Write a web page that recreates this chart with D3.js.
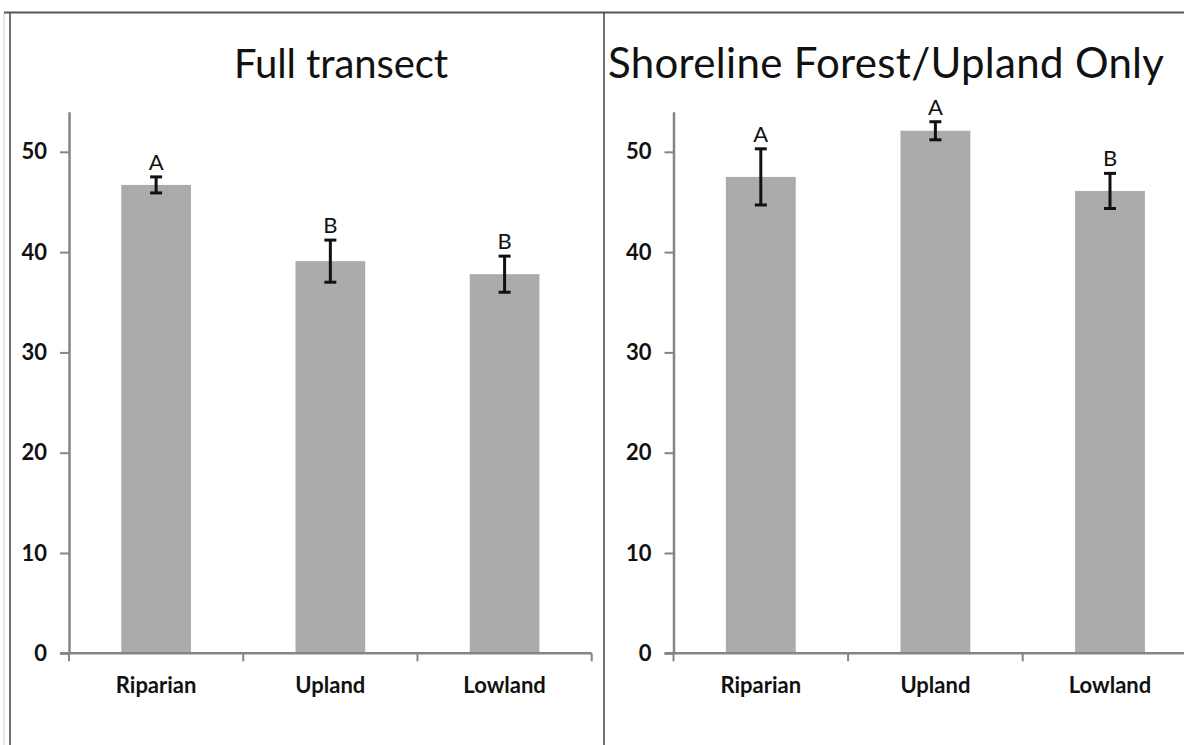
<!DOCTYPE html>
<html>
<head>
<meta charset="utf-8">
<script src="https://cdn.jsdelivr.net/npm/d3@7"></script>
<style>
body { margin: 0; background: #fff; }
text { font-family: Lato, "Open Sans", sans-serif; fill: #111; }
</style>
</head>
<body>
<div id="chart"></div>
<script>

const categories = ["Riparian", "Upland", "Lowland"];
const yTicks = [0, 10, 20, 30, 40, 50];

// Full transect
const fullMeans = [46.7, 39.1, 37.8];
const fullErr = [0.8, 2.1, 1.8];
const fullLetters = ["A", "B", "B"];

// Shoreline Forest/Upland Only
const shoreMeans = [47.5, 52.1, 46.1];
const shoreErr = [2.8, 0.9, 1.75];
const shoreLetters = ["A", "A", "B"];

const width = 1184;
const height = 745;

let svg = d3.select("#chart")
	.append("svg")
	.attr("width", width)
	.attr("height", height);

// frame around the two panels
svg.append("line")
	.attr("x1", 4).attr("x2", 4).attr("y1", 13).attr("y2", height)
	.attr("stroke", "#ccc").attr("stroke-width", 1);
svg.append("line")
	.attr("x1", 10).attr("x2", 10).attr("y1", 12).attr("y2", height)
	.attr("stroke", "#444").attr("stroke-width", 1.5);
svg.append("line")
	.attr("x1", 4).attr("x2", width).attr("y1", 12.5).attr("y2", 12.5)
	.attr("stroke", "#555").attr("stroke-width", 2);
svg.append("line")
	.attr("x1", 604).attr("x2", 604).attr("y1", 12).attr("y2", height)
	.attr("stroke", "#444").attr("stroke-width", 1.5);

const yScale = d3.scaleLinear()
	.domain([0, 54])
	.range([653.3, 111.7]);

function panel(title, titleSize, titleLen, means, errs, letters, x0, x1, titleX) {

	const xScale = d3.scaleBand()
		.domain(categories)
		.range([x0, x1])
		.paddingInner(0.6)
		.paddingOuter(0.3);

	let g = svg.append("g");

	g.append("text")
		.attr("x", titleX)
		.attr("y", 78)
		.attr("text-anchor", "middle")
		.attr("textLength", titleLen)
		.attr("lengthAdjust", "spacing")
		.style("font-size", titleSize + "px")
		.text(title);

	// y axis
	let yAxis = g.append("g")
		.attr("transform", `translate(${x0}, 0)`)
		.call(d3.axisLeft(yScale).tickValues(yTicks).tickSize(9).tickSizeOuter(0).tickPadding(13));
	yAxis.select(".domain").attr("stroke", "#858585").attr("stroke-width", 2.5);
	yAxis.selectAll(".tick line").attr("stroke", "#858585").attr("stroke-width", 2);
	yAxis.selectAll(".tick text")
		.style("font-size", "22px")
		.style("font-weight", "700")
		.style("font-family", "Lato, sans-serif")
		.attr("fill", "#1a1a1a");

	// bars
	g.selectAll("rect").data(means).enter()
		.append("rect")
		.attr("x", (d, i) => xScale(categories[i]))
		.attr("y", (d) => yScale(d))
		.attr("width", xScale.bandwidth())
		.attr("height", (d) => yScale(0) - yScale(d))
		.attr("fill", "#ababab");

	// x axis: line, boundary ticks and labels
	const y0 = yScale(0);
	const bounds = [0, 1, 2, 3].map((i) => x0 + i * (x1 - x0) / 3);

	g.append("line")
		.attr("x1", x0 - 9).attr("x2", x1)
		.attr("y1", y0).attr("y2", y0)
		.attr("stroke", "#858585").attr("stroke-width", 2.5);
	g.selectAll("line.xtick").data(bounds).enter()
		.append("line")
		.attr("class", "xtick")
		.attr("x1", (d) => d).attr("x2", (d) => d)
		.attr("y1", y0).attr("y2", y0 + 8)
		.attr("stroke", "#858585").attr("stroke-width", 2);
	g.selectAll("text.xlab").data(categories).enter()
		.append("text")
		.attr("class", "xlab")
		.attr("x", (d) => xScale(d) + xScale.bandwidth() / 2)
		.attr("y", 693)
		.attr("text-anchor", "middle")
		.style("font-size", "22px")
		.style("font-weight", "700")
		.attr("fill", "#1a1a1a")
		.text((d) => d);

	// error bars
	const cx = (i) => xScale(categories[i]) + xScale.bandwidth() / 2;
	let eb = g.append("g").attr("stroke", "#111").attr("stroke-width", 3);
	means.forEach(function(m, i) {
		const top = yScale(m + errs[i]);
		const bot = yScale(m - errs[i]);
		eb.append("line").attr("x1", cx(i)).attr("x2", cx(i)).attr("y1", top).attr("y2", bot);
		eb.append("line").attr("x1", cx(i) - 6).attr("x2", cx(i) + 6).attr("y1", top).attr("y2", top);
		eb.append("line").attr("x1", cx(i) - 6).attr("x2", cx(i) + 6).attr("y1", bot).attr("y2", bot);
	});

	// significance letters
	g.selectAll("text.letter").data(letters).enter()
		.append("text")
		.attr("class", "letter")
		.attr("x", (d, i) => cx(i))
		.attr("y", (d, i) => yScale(means[i] + errs[i]) - 7)
		.attr("text-anchor", "middle")
		.style("font-size", "22px")
		.text((d) => d);
}

panel("Full transect", 40, 214, fullMeans, fullErr, fullLetters, 69, 591.7, 341);
panel("Shoreline Forest/Upland Only", 42, 556, shoreMeans, shoreErr, shoreLetters, 673.5, 1197.3, 886);

</script>
</body>
</html>
